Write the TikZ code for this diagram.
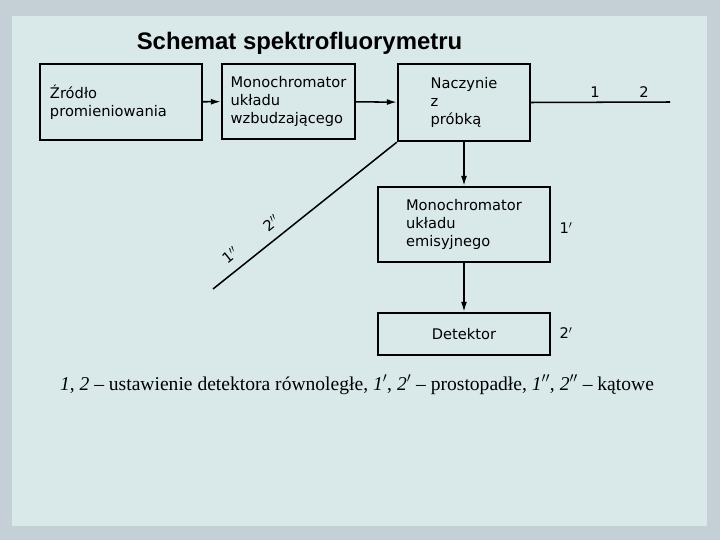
\documentclass[tikz,border=0pt]{standalone}
\usepackage{fontspec}
\setmainfont{Liberation Serif}
\setsansfont{DejaVu Sans}
\newfontfamily\tytulfont{Liberation Sans}
\usetikzlibrary{arrows.meta}
\definecolor{tlozew}{RGB}{196,208,214}
\definecolor{tlowew}{RGB}{217,233,234}

\begin{document}
\begin{tikzpicture}[x=0.03cm,y=-0.03cm,
  blok/.style={draw,line width=2pt,align=left,inner sep=0pt,font=\sffamily\fontsize{12.5}{15.5}\selectfont},
  strz/.style={line width=1.3pt,-{Latex[length=3mm,width=1.8mm]}},
  linia/.style={line width=1.3pt},
  etyk/.style={font=\sffamily\fontsize{12.5}{14}\selectfont,inner sep=1pt}]
\fill[tlozew] (0,0) rectangle (720,540);
\fill[tlowew] (12,16) rectangle (707,526);
\node[anchor=base,font=\tytulfont\bfseries\fontsize{20.4}{24}\selectfont] (tytul) at (299.5,50) {Schemat spektrofluorymetru};
\node[blok,text width=4.26cm,inner xsep=0.3cm,minimum height=2.28cm] (zrodlo) at (121,102) {Źródło\\promieniowania};
\node[blok,minimum width=3.99cm,minimum height=2.25cm] (monowzb) at (288.5,101.5) {Monochromator\\układu\\wzbudzającego};
\node[blok,minimum width=3.96cm,minimum height=2.31cm] (naczynie) at (464,102.5) {Naczynie\\ z\\próbką};
\node[blok,minimum width=5.16cm,minimum height=2.25cm] (monoem) at (464,224.5) {Monochromator\\układu\\emisyjnego};
\node[blok,minimum width=5.16cm,minimum height=1.26cm] (detektor) at (464,334) {Detektor};
\coordinate (koniec) at (670,102);
\coordinate (kat) at (213,289);
\draw[strz] (zrodlo) -- (monowzb);
\draw[strz] (monowzb) -- (naczynie);
\draw[strz] (naczynie) -- (monoem);
\draw[strz] (monoem) -- (detektor);
\draw[linia] (naczynie.east) -- (koniec);
\draw[linia] (naczynie.south west) -- (kat);
\node[etyk] (rown1) at (595,92) {1};
\node[etyk] (rown2) at (644,92) {2};
\node[etyk] (prost1) at (566,228) {1$'$};
\node[etyk] (prost2) at (566,333) {2$'$};
\node[etyk,rotate=38.7] (kat2) at (271,223) {2$''$};
\node[etyk,rotate=38.7] (kat1) at (230,255) {1$''$};
\node[anchor=base,font=\fontsize{16.7}{20}\selectfont] (opis) at (357,390) {\textit{1}, \textit{2} -- ustawienie detektora równoległe, \textit{1}$'$, \textit{2}$'$ -- prostopadłe, \textit{1}$''$, \textit{2}$''$ -- kątowe};
\end{tikzpicture}
\end{document}
